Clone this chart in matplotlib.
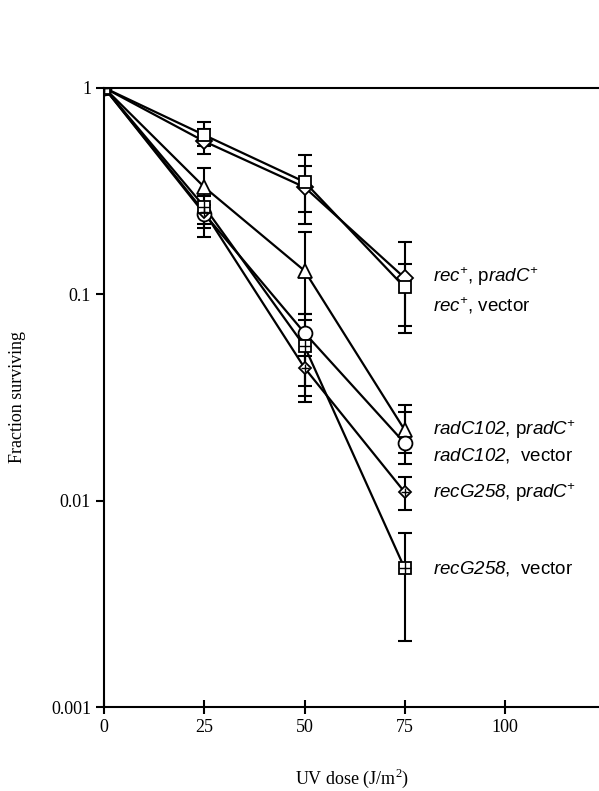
import numpy as np
import matplotlib.pyplot as plt

plt.rcParams['font.family'] = 'Liberation Serif'
plt.rcParams['mathtext.fontset'] = 'custom'
# math parts are used for the italic gene names (digits included)
plt.rcParams['mathtext.rm'] = 'Liberation Sans:italic'
plt.rcParams['mathtext.it'] = 'Liberation Sans:italic'
plt.rcParams['mathtext.sf'] = 'Liberation Serif'

# UV dose (J/m2)
dose = [0, 25, 50, 75]

# fraction surviving, with upper / lower ends of the error bars
rec_prad = [1, 0.55, 0.33, 0.12]
rec_prad_hi = [1, 0.63, 0.42, 0.18]
rec_prad_lo = [1, 0.48, 0.25, 0.07]

rec_vec = [1, 0.59, 0.35, 0.108]
rec_vec_hi = [1, 0.68, 0.47, 0.14]
rec_vec_lo = [1, 0.52, 0.22, 0.065]

radc_prad = [1, 0.33, 0.13, 0.022]
radc_prad_hi = [1, 0.41, 0.20, 0.029]
radc_prad_lo = [1, 0.27, 0.08, 0.017]

radc_vec = [1, 0.245, 0.065, 0.019]
radc_vec_hi = [1, 0.27, 0.075, 0.027]
radc_vec_lo = [1, 0.21, 0.032, 0.015]

recg_prad = [1, 0.25, 0.044, 0.011]
recg_prad_hi = [1, 0.27, 0.05, 0.013]
recg_prad_lo = [1, 0.19, 0.030, 0.009]

recg_vec = [1, 0.265, 0.056, 0.0047]
recg_vec_hi = [1, 0.30, 0.08, 0.007]
recg_vec_lo = [1, 0.22, 0.036, 0.0021]

labels = [r'$\mathrm{rec}^{+}$, p$\mathrm{radC}^{+}$',
          r'$\mathrm{rec}^{+}$, vector',
          r'$\mathrm{radC102}$, p$\mathrm{radC}^{+}$',
          r'$\mathrm{radC102}$,  vector',
          r'$\mathrm{recG258}$, p$\mathrm{radC}^{+}$',
          r'$\mathrm{recG258}$,  vector']
label_y = [0.122, 0.088, 0.022, 0.0165, 0.011, 0.0047]

series = [
    (rec_prad, rec_prad_hi, rec_prad_lo, 'D', 8, None),
    (rec_vec, rec_vec_hi, rec_vec_lo, 's', 8, None),
    (radc_prad, radc_prad_hi, radc_prad_lo, '^', 10, None),
    (radc_vec, radc_vec_hi, radc_vec_lo, 'o', 10, None),
    (recg_prad, recg_prad_hi, recg_prad_lo, 'D', 6, '+'),
    (recg_vec, recg_vec_hi, recg_vec_lo, 's', 9, '+'),
]

fig = plt.figure(figsize=(5.99, 7.91), dpi=100)
ax = fig.add_axes([0.174, 0.106, 0.826, 0.783])

for y, hi, lo, m, ms, over in series:
    y = np.array(y)
    err = [y - np.array(lo), np.array(hi) - y]
    ax.errorbar(dose[1:], y[1:], yerr=[err[0][1:], err[1][1:]], fmt='none',
                ecolor='black', elinewidth=1.5, capsize=5, capthick=1.5, zorder=2)
    ax.plot(dose, y, color='black', lw=1.6, zorder=3)
    ax.plot(dose, y, ls='none', marker=m, ms=ms, mfc='white', mec='black',
            mew=1.3, zorder=4)
    if over:
        ax.plot(dose, y, ls='none', marker=over, ms=ms, mec='black', mew=1.0,
                zorder=5)

for lab, ly in zip(labels, label_y):
    ax.text(82, ly, lab, fontsize=13.5, family='Liberation Sans', va='center',
            ha='left')

ax.set_yscale('log')
ax.set_ylim(0.001, 1)
ax.set_xlim(0, 123.5)
ax.set_xticks([0, 25, 50, 75, 100])
ax.set_yticks([0.001, 0.01, 0.1, 1])
ax.set_yticklabels(['0.001', '0.01', '0.1', '1'])
ax.minorticks_off()
ax.tick_params(labelsize=13, width=1.5, length=6)
ax.tick_params(axis='x', direction='inout', length=10)
ax.tick_params(axis='y', direction='out')
ax.spines['right'].set_visible(False)
for s in ['left', 'bottom', 'top']:
    ax.spines[s].set_linewidth(1.5)

ax.set_xlabel(r'UV dose (J/m$^{\mathsf{2}}$)', fontsize=13, labelpad=22)
ax.set_ylabel('Fraction surviving', fontsize=13, labelpad=18)

fig.savefig('out.png', dpi=100)
